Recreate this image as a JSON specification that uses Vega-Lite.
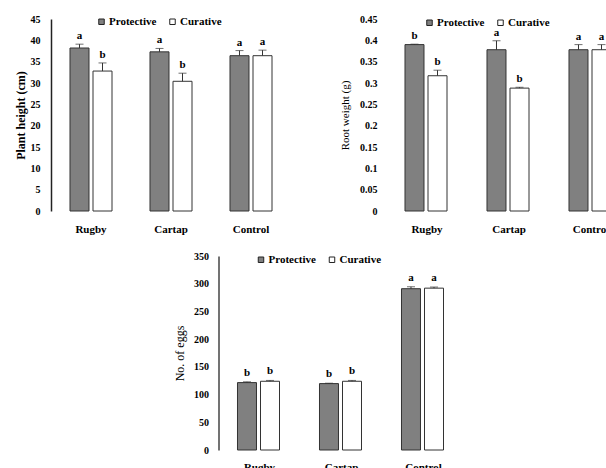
{
  "$schema": "https://vega.github.io/schema/vega-lite/v6.json",
  "background": "white",
  "padding": {"left": 14, "top": 14, "right": 0, "bottom": 0},
  "config": {
    "view": {"stroke": null},
    "axisY": {"labelOverlap": false, "grid": false, "ticks": false, "labelFont": "Liberation Serif", "labelFontWeight": "bold", "labelFontSize": 10, "labelColor": "#000", "titleFont": "Liberation Serif", "titleColor": "#000"},
    "axisX": {"title": null, "domain": false, "ticks": false, "labelAngle": 0, "labelFont": "Liberation Serif", "labelFontWeight": "bold", "labelFontSize": 11, "labelColor": "#000"},
    "legend": {"title": null, "orient": "none", "direction": "horizontal", "symbolType": "square", "symbolSize": 30, "symbolStrokeColor": "#222", "symbolStrokeWidth": 1, "labelFont": "Liberation Serif", "labelFontWeight": "bold", "labelFontSize": 11, "labelColor": "#000", "columnPadding": 10, "labelOffset": 2}
  },
  "center": true,
  "spacing": 17,
  "resolve": {"scale": {"fill": "independent"}, "legend": {"fill": "independent"}},
  "vconcat": [
    {
      "hconcat": [
        {
          "width": 240, "height": 192,
          "data": {"values": [
            {"group": "Rugby", "treatment": "Protective", "value": 38.2, "upper": 39.1, "letter": "a"},
            {"group": "Rugby", "treatment": "Curative", "value": 32.8, "upper": 34.7, "letter": "b"},
            {"group": "Cartap", "treatment": "Protective", "value": 37.3, "upper": 38.1, "letter": "a"},
            {"group": "Cartap", "treatment": "Curative", "value": 30.4, "upper": 32.3, "letter": "b"},
            {"group": "Control", "treatment": "Protective", "value": 36.4, "upper": 37.6, "letter": "a"},
            {"group": "Control", "treatment": "Curative", "value": 36.4, "upper": 37.7, "letter": "a"}
          ]},
          "encoding": {
            "x": {"field": "group", "type": "nominal", "sort": ["Rugby", "Cartap", "Control"], "scale": {"paddingInner": 0, "paddingOuter": 0}, "axis": {"labelPadding": 12}},
            "xOffset": {"field": "treatment", "type": "nominal", "sort": ["Protective", "Curative"], "scale": {"paddingInner": 0.174, "paddingOuter": 0.826}},
            "y": {"field": "value", "type": "quantitative", "title": "Plant height (cm)", "scale": {"domain": [0, 45]},
              "axis": {"values": [0, 5, 10, 15, 20, 25, 30, 35, 40, 45], "domain": true, "domainColor": "#222", "domainWidth": 1.5, "labelPadding": 11, "titleFontWeight": "bold", "titleFontSize": 12, "titlePadding": 3}}
          },
          "layer": [
            {"mark": {"type": "bar", "stroke": "#333", "strokeWidth": 1},
              "encoding": {
                "fill": {"field": "treatment", "type": "nominal", "sort": ["Protective", "Curative"], "scale": {"domain": ["Protective", "Curative"], "range": ["#808080", "#ffffff"]},
                  "legend": {"legendX": 45, "legendY": -3}}
              }},
            {"mark": {"type": "rule", "color": "#333"},
              "encoding": {"y2": {"field": "upper"}}},
            {"mark": {"type": "tick", "color": "#333", "size": 8, "thickness": 1},
              "encoding": {"y": {"field": "upper", "type": "quantitative", "title": "Plant height (cm)", "scale": {"domain": [0, 45]},
                "axis": {"values": [0, 5, 10, 15, 20, 25, 30, 35, 40, 45], "domain": true, "domainColor": "#222", "domainWidth": 1.5, "labelPadding": 11, "titleFontWeight": "bold", "titleFontSize": 12, "titlePadding": 3}}}},
            {"mark": {"type": "text", "font": "Liberation Serif", "fontWeight": "bold", "fontSize": 11, "baseline": "bottom", "dy": -3, "color": "#000"},
              "encoding": {"y": {"field": "upper", "type": "quantitative", "title": "Plant height (cm)", "scale": {"domain": [0, 45]},
                "axis": {"values": [0, 5, 10, 15, 20, 25, 30, 35, 40, 45], "domain": true, "domainColor": "#222", "domainWidth": 1.5, "labelPadding": 11, "titleFontWeight": "bold", "titleFontSize": 12, "titlePadding": 3}},
                "text": {"field": "letter"}}}
          ]
        },
        {
          "width": 246, "height": 192,
          "data": {"values": [
            {"group": "Rugby", "treatment": "Protective", "value": 0.39, "upper": 0.391, "letter": "b"},
            {"group": "Rugby", "treatment": "Curative", "value": 0.317, "upper": 0.33, "letter": "b"},
            {"group": "Cartap", "treatment": "Protective", "value": 0.378, "upper": 0.399, "letter": "a"},
            {"group": "Cartap", "treatment": "Curative", "value": 0.288, "upper": 0.29, "letter": "b"},
            {"group": "Control", "treatment": "Protective", "value": 0.378, "upper": 0.39, "letter": "a"},
            {"group": "Control", "treatment": "Curative", "value": 0.378, "upper": 0.39, "letter": "a"}
          ]},
          "encoding": {
            "x": {"field": "group", "type": "nominal", "sort": ["Rugby", "Cartap", "Control"], "scale": {"paddingInner": 0, "paddingOuter": 0}, "axis": {"labelPadding": 12}},
            "xOffset": {"field": "treatment", "type": "nominal", "sort": ["Protective", "Curative"], "scale": {"paddingInner": 0.174, "paddingOuter": 0.87}},
            "y": {"field": "value", "type": "quantitative", "title": "Root weight (g)", "scale": {"domain": [0, 0.45]},
              "axis": {"values": [0, 0.05, 0.1, 0.15, 0.2, 0.25, 0.3, 0.35, 0.4, 0.45], "format": ".2~f", "domain": false, "labelPadding": 9, "titleFontWeight": "normal", "titleFontSize": 11, "titlePadding": 9}}
          },
          "layer": [
            {"mark": {"type": "bar", "stroke": "#333", "strokeWidth": 1},
              "encoding": {
                "fill": {"field": "treatment", "type": "nominal", "sort": ["Protective", "Curative"], "scale": {"domain": ["Protective", "Curative"], "range": ["#808080", "#ffffff"]},
                  "legend": {"legendX": 38, "legendY": -2}}
              }},
            {"mark": {"type": "rule", "color": "#333"},
              "encoding": {"y2": {"field": "upper"}}},
            {"mark": {"type": "tick", "color": "#333", "size": 8, "thickness": 1},
              "encoding": {"y": {"field": "upper", "type": "quantitative", "title": "Root weight (g)", "scale": {"domain": [0, 0.45]},
                "axis": {"values": [0, 0.05, 0.1, 0.15, 0.2, 0.25, 0.3, 0.35, 0.4, 0.45], "format": ".2~f", "domain": false, "labelPadding": 9, "titleFontWeight": "normal", "titleFontSize": 11, "titlePadding": 9}}}},
            {"mark": {"type": "text", "font": "Liberation Serif", "fontWeight": "bold", "fontSize": 11, "baseline": "bottom", "dy": -3, "color": "#000"},
              "encoding": {"y": {"field": "upper", "type": "quantitative", "title": "Root weight (g)", "scale": {"domain": [0, 0.45]},
                "axis": {"values": [0, 0.05, 0.1, 0.15, 0.2, 0.25, 0.3, 0.35, 0.4, 0.45], "format": ".2~f", "domain": false, "labelPadding": 9, "titleFontWeight": "normal", "titleFontSize": 11, "titlePadding": 9}},
                "text": {"field": "letter"}}}
          ]
        }
      ],
      "spacing": 48,
      "resolve": {"scale": {"fill": "independent"}, "legend": {"fill": "independent"}}
    },
    {
      "width": 246, "height": 194,
      "data": {"values": [
        {"group": "Rugby", "treatment": "Protective", "value": 121.6, "upper": 123, "letter": "b"},
        {"group": "Rugby", "treatment": "Curative", "value": 124, "upper": 125.5, "letter": "b"},
        {"group": "Cartap", "treatment": "Protective", "value": 119.8, "upper": 120.5, "letter": "b"},
        {"group": "Cartap", "treatment": "Curative", "value": 124, "upper": 125.5, "letter": "b"},
        {"group": "Control", "treatment": "Protective", "value": 291, "upper": 294.5, "letter": "a"},
        {"group": "Control", "treatment": "Curative", "value": 292, "upper": 294, "letter": "a"}
      ]},
      "encoding": {
        "x": {"field": "group", "type": "nominal", "sort": ["Rugby", "Cartap", "Control"], "scale": {"paddingInner": 0, "paddingOuter": 0}, "axis": {"labelPadding": 11}},
        "xOffset": {"field": "treatment", "type": "nominal", "sort": ["Protective", "Curative"], "scale": {"paddingInner": 0.174, "paddingOuter": 0.87}},
        "y": {"field": "value", "type": "quantitative", "title": "No. of eggs", "scale": {"domain": [0, 350]},
          "axis": {"values": [0, 50, 100, 150, 200, 250, 300, 350], "domain": true, "domainColor": "#444", "domainWidth": 1.5, "labelPadding": 10, "titleFontWeight": "normal", "titleFontSize": 12, "titlePadding": 7}}
      },
      "layer": [
        {"mark": {"type": "bar", "stroke": "#333", "strokeWidth": 1},
          "encoding": {
            "fill": {"field": "treatment", "type": "nominal", "sort": ["Protective", "Curative"], "scale": {"domain": ["Protective", "Curative"], "range": ["#808080", "#ffffff"]},
              "legend": {"legendX": 37, "legendY": -2}}
          }},
        {"mark": {"type": "rule", "color": "#333"},
          "encoding": {"y2": {"field": "upper"}}},
        {"mark": {"type": "tick", "color": "#333", "size": 8, "thickness": 1},
          "encoding": {"y": {"field": "upper", "type": "quantitative", "title": "No. of eggs", "scale": {"domain": [0, 350]},
            "axis": {"values": [0, 50, 100, 150, 200, 250, 300, 350], "domain": true, "domainColor": "#444", "domainWidth": 1.5, "labelPadding": 10, "titleFontWeight": "normal", "titleFontSize": 12, "titlePadding": 7}}}},
        {"mark": {"type": "text", "font": "Liberation Serif", "fontWeight": "bold", "fontSize": 11, "baseline": "bottom", "dy": -4, "color": "#000"},
          "encoding": {"y": {"field": "upper", "type": "quantitative", "title": "No. of eggs", "scale": {"domain": [0, 350]},
            "axis": {"values": [0, 50, 100, 150, 200, 250, 300, 350], "domain": true, "domainColor": "#444", "domainWidth": 1.5, "labelPadding": 10, "titleFontWeight": "normal", "titleFontSize": 12, "titlePadding": 7}},
            "text": {"field": "letter"}}}
      ]
    }
  ]
}
